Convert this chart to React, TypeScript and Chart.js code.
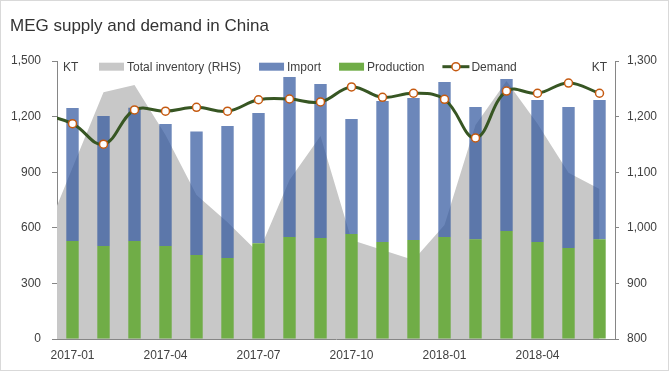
import React, { useEffect, useRef } from 'react';
import { Chart, registerables } from 'chart.js';

Chart.register(...registerables);

// ---------------- data ----------------
const months = [
  '2017-01', '2017-02', '2017-03', '2017-04', '2017-05', '2017-06',
  '2017-07', '2017-08', '2017-09', '2017-10', '2017-11', '2017-12',
  '2018-01', '2018-02', '2018-03', '2018-04', '2018-05', '2018-06',
];
const xTickLabels = ['2017-01', '2017-04', '2017-07', '2017-10', '2018-01', '2018-04'];

const production = [529, 502, 529, 502, 453, 437, 516, 550, 545, 567, 523, 534, 550, 538, 583, 523, 491, 538];
const imports = [717, 701, 719, 658, 666, 712, 703, 864, 831, 620, 761, 766, 837, 714, 820, 767, 761, 752];
const demand = [1162, 1051, 1236, 1229, 1250, 1229, 1291, 1295, 1279, 1360, 1304, 1326, 1293, 1085, 1338, 1326, 1381, 1326];
// value of the month before 2017-01 (only its segment into the plot edge is visible)
const demandPrev = 1214;
const inventory = [1108, 1244, 1257, 1167, 1059, 1010, 955, 1086, 1165, 978, 960, 942, 1005, 1185, 1264, 1187, 1099, 1070];
const inventoryPrev = 971;

const leftTicks = [0, 300, 600, 900, 1200, 1500];
const rightTicks = [800, 900, 1000, 1100, 1200, 1300];

const TITLE = 'MEG supply and demand in China';
const UNIT = 'KT';
const LABEL_INV = 'Total inventory (RHS)';
const LABEL_IMP = 'Import';
const LABEL_PROD = 'Production';
const LABEL_DEM = 'Demand';

// ---------------- styles ----------------
const FONT_FAMILY = '"Liberation Sans", Arial, sans-serif';
const TEXT = '#404040';
const AXIS = '#868686';
const GRAY = '#c8c8c8';
const BLUE = 'rgba(45,84,156,0.7)';
const GREEN = '#70ad47';
const DEM_LINE = '#375623';
const DEM_MARK = '#c55a11';

const fmt = (v: number) => Number(v).toLocaleString('en-US');
const toPoints = (arr: number[]) => arr.map((v, i) => ({ x: i, y: v }));

const decorPlugin = {
  id: 'decor',
  beforeDraw(chart: any) {
    const { ctx, width, height } = chart;
    ctx.save();
    ctx.fillStyle = '#ffffff';
    ctx.fillRect(0, 0, width, height);
    ctx.strokeStyle = '#d9d9d9';
    ctx.lineWidth = 1;
    ctx.strokeRect(0.5, 0.5, width - 2, height - 2);
    ctx.restore();
  },
  afterDraw(chart: any) {
    const { ctx, chartArea: ca } = chart;
    ctx.save();
    // title
    ctx.fillStyle = '#333333';
    ctx.font = `17px ${FONT_FAMILY}`;
    ctx.textAlign = 'left';
    ctx.textBaseline = 'alphabetic';
    ctx.fillText(TITLE, 10, 31);

    // unit labels
    ctx.font = `12px ${FONT_FAMILY}`;
    ctx.fillStyle = TEXT;
    ctx.textBaseline = 'middle';
    ctx.textAlign = 'left';
    ctx.fillText(UNIT, ca.left + 6, ca.top + 6.5);
    ctx.textAlign = 'right';
    ctx.fillText(UNIT, ca.right - 8, ca.top + 6.5);

    // legend
    const yc = ca.top + 5.7;
    let x = ca.left + 42;
    const items = [
      { label: LABEL_INV, kind: 'box', color: GRAY },
      { label: LABEL_IMP, kind: 'box', color: BLUE },
      { label: LABEL_PROD, kind: 'box', color: GREEN },
      { label: LABEL_DEM, kind: 'line', color: DEM_LINE },
    ];
    ctx.textAlign = 'left';
    for (const it of items) {
      if (it.kind === 'box') {
        ctx.fillStyle = it.color;
        ctx.fillRect(x, yc - 4, 25, 8);
        x += 28;
      } else {
        ctx.strokeStyle = it.color;
        ctx.lineWidth = 3;
        ctx.beginPath();
        ctx.moveTo(x, yc);
        ctx.lineTo(x + 27, yc);
        ctx.stroke();
        ctx.beginPath();
        ctx.arc(x + 13.5, yc, 4, 0, Math.PI * 2);
        ctx.fillStyle = '#ffffff';
        ctx.fill();
        ctx.lineWidth = 1.5;
        ctx.strokeStyle = DEM_MARK;
        ctx.stroke();
        x += 29;
      }
      ctx.fillStyle = TEXT;
      ctx.fillText(it.label, x, yc + 0.5);
      x += ctx.measureText(it.label).width + 18;
    }
    ctx.restore();
  },
};

export default function App() {
  const ref = useRef<HTMLCanvasElement | null>(null);

  useEffect(() => {
    document.body.style.margin = '0';
    const canvas = ref.current;
    if (!canvas) return;

    const tickFont = { family: FONT_FAMILY, size: 12 };

    const chart = new Chart(canvas, {
      type: 'bar',
      data: {
        datasets: [
          {
            type: 'line',
            label: LABEL_INV,
            xAxisID: 'x',
            yAxisID: 'y2',
            data: [{ x: -1, y: inventoryPrev }, ...toPoints(inventory)],
            fill: 'start',
            backgroundColor: GRAY,
            borderColor: 'rgba(0,0,0,0)',
            borderWidth: 0,
            pointRadius: 0,
            tension: 0,
            clip: 0,
            order: 3,
          } as any,
          {
            type: 'bar',
            label: LABEL_PROD,
            xAxisID: 'x',
            yAxisID: 'y',
            data: toPoints(production),
            backgroundColor: GREEN,
            stack: 'supply',
            barPercentage: 0.4,
            categoryPercentage: 1,
            order: 2,
          },
          {
            type: 'bar',
            label: LABEL_IMP,
            xAxisID: 'x',
            yAxisID: 'y',
            data: toPoints(imports),
            backgroundColor: BLUE,
            stack: 'supply',
            barPercentage: 0.4,
            categoryPercentage: 1,
            order: 2,
          },
          {
            type: 'line',
            label: LABEL_DEM,
            xAxisID: 'x',
            yAxisID: 'y',
            stack: 'demand',
            data: [{ x: -1, y: demandPrev }, ...toPoints(demand)],
            borderColor: DEM_LINE,
            borderWidth: 3,
            tension: 0.4,
            fill: false,
            pointRadius: [0, ...demand.map(() => 4)],
            pointBackgroundColor: '#ffffff',
            pointBorderColor: DEM_MARK,
            pointBorderWidth: 1.5,
            clip: 0,
            order: 1,
          } as any,
        ],
      },
      options: {
        responsive: false,
        devicePixelRatio: 1,
        animation: false,
        events: [],
        layout: { padding: { top: 61, left: 0, right: 0, bottom: 0 } },
        plugins: {
          legend: { display: false },
          title: { display: false },
          tooltip: { enabled: false },
        },
        scales: {
          x: {
            type: 'linear',
            position: 'bottom',
            offset: false,
            min: -0.5,
            max: 17.5,
            grid: { display: true, offset: false, drawOnChartArea: false, drawTicks: false, color: AXIS },
            border: { display: true, color: AXIS, width: 1 },
            ticks: {
              autoSkip: false,
              maxRotation: 0,
              minRotation: 0,
              padding: 9,
              color: TEXT,
              font: tickFont,
              callback: (v: any) => months[Math.round(Number(v))] ?? '',
            },
            afterBuildTicks: (s: any) => {
              s.ticks = xTickLabels.map((l) => ({ value: months.indexOf(l) }));
            },
            afterFit: (s: any) => {
              s.height = 33;
              s.paddingLeft = 0;
              s.paddingRight = 0;
            },
          },
          y: {
            type: 'linear',
            position: 'left',
            stacked: true,
            min: 0,
            max: 1500,
            grid: { display: true, drawOnChartArea: false, drawTicks: true, tickLength: 5, color: AXIS },
            border: { display: true, color: AXIS, width: 1 },
            ticks: { padding: 11, color: TEXT, font: tickFont, callback: (v: any) => fmt(v) },
            afterBuildTicks: (s: any) => { s.ticks = leftTicks.map((v) => ({ value: v })); },
            afterFit: (s: any) => { s.width = 57; s.paddingTop = 0; s.paddingBottom = 0; },
          },
          y2: {
            type: 'linear',
            position: 'right',
            min: 800,
            max: 1300,
            grid: { display: true, drawOnChartArea: false, drawTicks: true, tickLength: 4, color: AXIS },
            border: { display: true, color: AXIS, width: 1 },
            ticks: { padding: 8, color: TEXT, font: tickFont, callback: (v: any) => fmt(v) },
            afterBuildTicks: (s: any) => { s.ticks = rightTicks.map((v) => ({ value: v })); },
            afterFit: (s: any) => { s.width = 55; s.paddingTop = 0; s.paddingBottom = 0; },
          },
        },
      } as any,
      plugins: [decorPlugin],
    });

    return () => chart.destroy();
  }, []);

  return (
    <div style={{ width: 670, height: 372 }}>
      <canvas ref={ref} width={670} height={372} style={{ display: 'block' }} />
    </div>
  );
}
